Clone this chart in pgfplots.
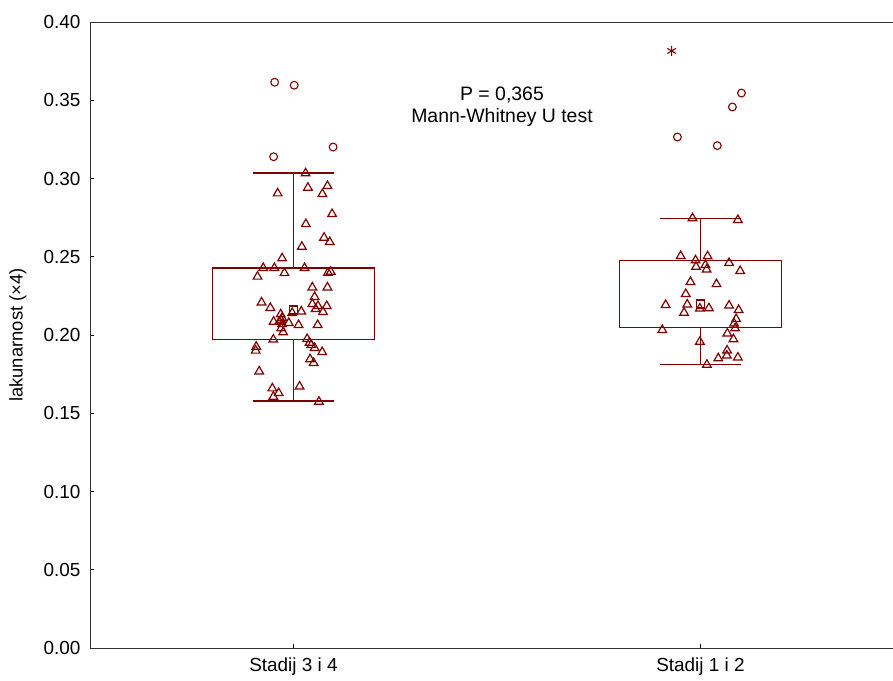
\documentclass[border=0pt]{standalone}
\usepackage{fontspec}
\setmainfont{Liberation Sans}
\usepackage{pgfplots}
\usepackage{pgfplotstable}
\pgfplotsset{compat=1.18}
\definecolor{dred}{RGB}{128,0,0}

% Group "Stadij 3 i 4" (x = 0 + jitter)
\pgfplotstableread{
x y
0.0297 0.3033
0.0354 0.2941
0.0834 0.2952
0.0710 0.2901
-0.0389 0.2905
0.0948 0.2773
0.0304 0.2709
0.0750 0.2622
0.0891 0.2594
0.0205 0.2564
-0.0280 0.2490
-0.0743 0.2428
-0.0470 0.2428
0.0272 0.2428
-0.0223 0.2396
-0.0884 0.2373
0.0849 0.2398
0.0916 0.2404
0.0463 0.2304
0.0834 0.2304
0.0520 0.2243
-0.0785 0.2208
-0.0569 0.2173
0.0463 0.2198
0.0601 0.2185
0.0817 0.2185
0.0545 0.2166
0.0725 0.2147
0.0191 0.2150
-0.0032 0.2141
-0.0314 0.2132
-0.0280 0.2109
-0.0347 0.2085
-0.0488 0.2085
-0.0116 0.2077
0.0124 0.2064
0.0594 0.2064
-0.0280 0.2070
-0.0304 0.2043
-0.0255 0.2017
-0.0495 0.1971
0.0334 0.1974
0.0438 0.1936
0.0520 0.1917
0.0705 0.1891
-0.0916 0.1925
-0.0928 0.1900
0.0408 0.1845
0.0495 0.1821
-0.0842 0.1767
0.0149 0.1671
-0.0520 0.1659
-0.0364 0.1629
-0.0495 0.1606
0.0626 0.1574
-0.0304 0.2096
0.0396 0.1951
}\gA

\pgfplotstableread{
x y
-0.0463 0.3615
0.0017 0.3596
0.0973 0.3201
-0.0488 0.3139
}\gAout

% Group "Stadij 1 i 2" (x = 1 + jitter)
\pgfplotstableread{
x y
0.9804 0.2746
1.0918 0.2735
0.9514 0.2505
0.9878 0.2477
1.0175 0.2503
0.9890 0.2436
1.0121 0.2447
1.0150 0.2418
1.0702 0.2460
1.0975 0.2409
0.9754 0.2339
1.0393 0.2325
0.9638 0.2262
0.9143 0.2192
0.9675 0.2195
0.9596 0.2142
0.9985 0.2169
1.0207 0.2171
1.0702 0.2188
1.0937 0.2160
1.0876 0.2102
1.0826 0.2073
1.0851 0.2043
1.0660 0.2010
1.0809 0.1973
0.9061 0.2032
0.9985 0.1957
1.0653 0.1901
1.0646 0.1869
1.0437 0.1851
1.0918 0.1856
1.0158 0.1810
}\gB

\pgfplotstableread{
x y
1.1007 0.3546
1.0784 0.3457
0.9433 0.3265
1.0413 0.3210
}\gBout

\begin{document}
\begin{tikzpicture}
\useasboundingbox (-90bp,-33bp) rectangle (803bp,648bp);
\begin{axis}[
  scale only axis, width=803bp, height=626bp,
  xmin=-0.5, xmax=1.473, ymin=0, ymax=0.4,
  axis x line*=box, axis y line*=left,
  axis line style={-, line width=0.9bp, black!80},
  xtick={0,1}, xticklabels={Stadij 3 i 4, Stadij 1 i 2},
  xtick pos=bottom, ytick pos=left,
  ytick={0,0.05,0.1,0.15,0.2,0.25,0.3,0.35,0.4},
  /pgf/number format/assume math mode=true,
  tick align=inside, major tick length=4bp,
  tick style={black, line width=0.6bp},
  tick label style={font=\fontsize{19}{22}\selectfont},
  yticklabel style={xshift=-6bp, /pgf/number format/.cd, fixed, fixed zerofill, precision=2},
  xticklabel style={yshift=-6bp},
  label style={font=\fontsize{18.5}{22}\selectfont},
  ylabel={lakunarnost (×4)},
  ylabel style={at={(axis description cs:-0.0897,0.5)}, anchor=center},
  clip=false,
]
% box 1
\addplot[dred, line width=1.1bp, mark=none] coordinates {(-0.2,0.1974) (0.2,0.1974) (0.2,0.2428) (-0.2,0.2428) (-0.2,0.1974)};
\addplot[dred, line width=0.9bp, mark=none] coordinates {(0,0.2428) (0,0.3035)};
\addplot[dred, line width=1.1bp, mark=none] coordinates {(-0.1,0.3035) (0.1,0.3035)};
\addplot[dred, line width=0.9bp, mark=none] coordinates {(0,0.1974) (0,0.1578)};
\addplot[dred, line width=1.1bp, mark=none] coordinates {(-0.1,0.1578) (0.1,0.1578)};
% box 2
\addplot[dred, line width=1.1bp, mark=none] coordinates {(0.8,0.2049) (1.2,0.2049) (1.2,0.2477) (0.8,0.2477) (0.8,0.2049)};
\addplot[dred, line width=0.9bp, mark=none] coordinates {(1,0.2477) (1,0.2746)};
\addplot[dred, line width=1.1bp, mark=none] coordinates {(0.9,0.2746) (1.1,0.2746)};
\addplot[dred, line width=0.9bp, mark=none] coordinates {(1,0.2049) (1,0.1813)};
\addplot[dred, line width=1.1bp, mark=none] coordinates {(0.9,0.1813) (1.1,0.1813)};

% medians
\addplot[only marks, mark=square, mark size=4bp, dred, line width=1.1bp] coordinates {(0,0.2160) (1,0.2198)};

\addplot[only marks, mark=triangle, mark size=5bp, dred, line width=1.2bp] table {\gA};
\addplot[only marks, mark=triangle, mark size=5bp, dred, line width=1.2bp] table {\gB};
\addplot[only marks, mark=o, mark size=3.9bp, dred, line width=1.1bp] table {\gAout};
\addplot[only marks, mark=o, mark size=3.9bp, dred, line width=1.1bp] table {\gBout};
\addplot[only marks, mark=asterisk, mark size=5bp, dred, line width=1.1bp] coordinates {(0.9291,0.3815)};

\node[font=\fontsize{19.5}{22}\selectfont] at (axis cs:0.5123,0.3534) {P = 0,365};
\node[font=\fontsize{19.5}{22}\selectfont] at (axis cs:0.5123,0.3393) {Mann-Whitney U test};
\end{axis}
\end{tikzpicture}
\end{document}
